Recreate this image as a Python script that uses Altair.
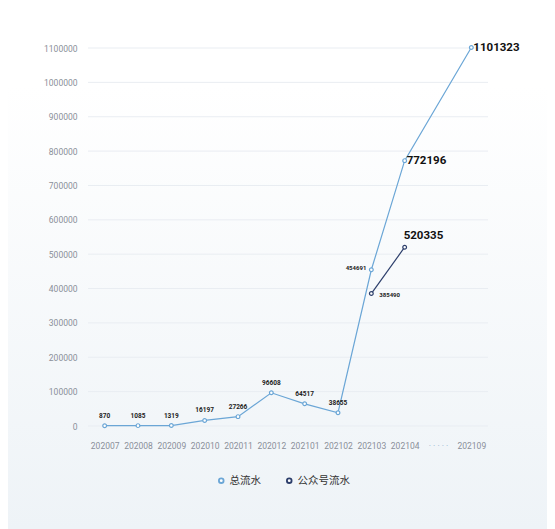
import altair as alt
import pandas as pd

months = ["202007", "202008", "202009", "202010", "202011", "202012",
          "202101", "202102", "202103", "202104", "· · · · ·", "202109"]
total = [870, 1085, 1319, 16197, 27266, 96608, 64517, 38655, 454691, 772196, None, 1101323]
public_months = ["202103", "202104"]
public = [385490, 520335]
series_names = ["总流水", "公众号流水"]
y_ticks = list(range(0, 1100001, 100000))

rows = []
for m, v in zip(months, total):
    if v is not None:
        rows.append({"month": m, "value": v, "series": series_names[0]})
for m, v in zip(public_months, public):
    rows.append({"month": m, "value": v, "series": series_names[1]})
df = pd.DataFrame(rows)

NARROW = "Roboto"
BLUE = "#6ba6d6"
NAVY = "#2c3e6b"

x_enc = alt.X("month:N", sort=months,
              scale=alt.Scale(domain=months, type="point", padding=0.5),
              axis=alt.Axis(title=None, labelAngle=0, domain=False, ticks=False, grid=False, zindex=1,
                            labelFont=NARROW, labelFontSize=8.5, labelPadding=15,
                            labelColor={"condition": {"test": "datum.value == '· · · · ·'", "value": "#8fb0cf"},
                                        "value": "#8a8f99"}))
yscale = alt.Scale(domain=[0, 1100000], nice=False)
y_axis = alt.Axis(title=None, values=y_ticks, format="d", domain=False, ticks=False,
                  grid=False, zindex=1, labelFont=NARROW, labelFontSize=8.5,
                  labelColor="#8a8f99", labelPadding=11)
y_enc = alt.Y("value:Q", scale=yscale, axis=y_axis)
cscale = alt.Scale(domain=series_names, range=[BLUE, NAVY])
legend = alt.Legend(title=None, orient="none", direction="horizontal",
                    legendX=128, legendY=427, symbolType="circle", zindex=1,
                    symbolFillColor="white", symbolStrokeWidth=1.8,
                    symbolSize=22, labelFont="Noto Sans CJK SC",
                    labelFontSize=10.5, labelColor="#333", columnPadding=22,
                    symbolOffset=0, labelOffset=3)
stroke_enc = alt.Stroke("series:N", sort=series_names, scale=cscale, legend=legend)

base = alt.Chart(df)

bg = alt.Chart(pd.DataFrame({"k": [0]})).mark_rect(
    clip=False,
    color=alt.Gradient(gradient="linear", x1=0, x2=0, y1=0, y2=1,
                       stops=[alt.GradientStop(color="#ffffff", offset=0),
                              alt.GradientStop(color="#ffffff", offset=0.15),
                              alt.GradientStop(color="#eef3f7", offset=1)])
).encode(x=alt.value(-80), x2=alt.value(459), y=alt.value(-40), y2=alt.value(481))

grid = alt.Chart(pd.DataFrame({"value": y_ticks})).mark_rule(color="#e9edf2", strokeWidth=1).encode(
    y=alt.Y("value:Q", scale=yscale, axis=y_axis))

lines = base.mark_line(strokeWidth=1.2).encode(
    x=x_enc, y=y_enc, stroke=stroke_enc, detail="series:N")
points = base.mark_point(filled=True, fill="white", size=14, strokeWidth=1.2, opacity=1).encode(
    x=x_enc, y=y_enc, stroke=stroke_enc)

small_months = months[:8]
small = base.transform_filter(
    alt.FieldOneOfPredicate(field="month", oneOf=small_months)
).transform_filter(alt.datum.series == series_names[0]).mark_text(
    font=NARROW, fontSize=6.5, fontWeight="bold", color="#222", dy=-10
).encode(x=x_enc, y=y_enc, text="value:Q")

left_lbl = base.transform_filter(
    (alt.datum.month == "202103") & (alt.datum.series == series_names[0])
).mark_text(font=NARROW, fontSize=6, fontWeight="bold", color="#222", align="right", dx=-5, dy=-2
            ).encode(x=x_enc, y=y_enc, text="value:Q")

pub_small = base.transform_filter(
    (alt.datum.month == "202103") & (alt.datum.series == series_names[1])
).mark_text(font=NARROW, fontSize=6, fontWeight="bold", color="#222", align="left", dx=8, dy=1
            ).encode(x=x_enc, y=y_enc, text="value:Q")

big_right = base.transform_filter(
    alt.FieldOneOfPredicate(field="month", oneOf=["202104", "202109"])
).transform_filter(alt.datum.series == series_names[0]).mark_text(
    font=NARROW, fontSize=11.5, fontWeight="bold", color="#111", align="left", dx=2, dy=0
).encode(x=x_enc, y=y_enc, text="value:Q")

big_top = base.transform_filter(
    (alt.datum.month == "202104") & (alt.datum.series == series_names[1])
).mark_text(font=NARROW, fontSize=11.5, fontWeight="bold", color="#111", align="left", dx=-1, dy=-11
            ).encode(x=x_enc, y=y_enc, text="value:Q")

chart = alt.layer(bg, grid, lines, points, small, left_lbl, pub_small, big_right, big_top).properties(
    width=400, height=378,
    autosize=alt.AutoSizeParams(type="none"),
    padding={"left": 80, "top": 40, "right": 59, "bottom": 103},
).configure_view(stroke=None).configure(background="white")

chart.save("out.html", embed_options={"renderer": "svg", "actions": False})
